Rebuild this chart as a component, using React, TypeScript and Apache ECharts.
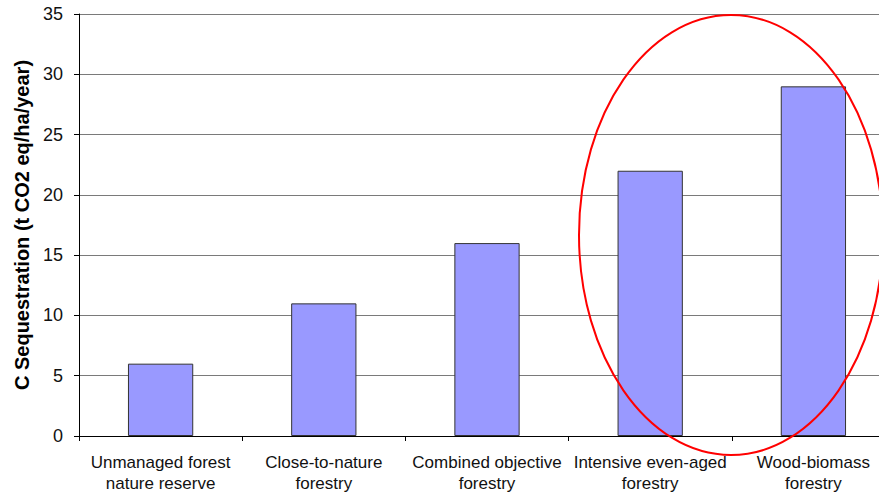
import React, { useEffect, useRef } from "react";
import * as echarts from "echarts";

const categories = [
  "Unmanaged forest\nnature reserve",
  "Close-to-nature\nforestry",
  "Combined objective\nforestry",
  "Intensive even-aged\nforestry",
  "Wood-biomass\nforestry",
];
const sequestration = [6, 11, 16, 22, 29];
const yTicks = { min: 0, max: 35, interval: 5 };
const yAxisTitle = "C Sequestration (t CO2 eq/ha/year)";

export default function App() {
  const ref = useRef<HTMLDivElement>(null);

  useEffect(() => {
    if (!ref.current) return;
    const chart = echarts.init(ref.current, undefined, { renderer: "svg" });
    chart.setOption({
      animation: false,
      textStyle: { fontFamily: "Liberation Sans, Arial, sans-serif" },
      grid: { left: 79, right: 0, top: 14, bottom: 57, outerBoundsMode: "none", containLabel: false },
      xAxis: {
        type: "category",
        data: categories,
        axisLine: { lineStyle: { color: "#000", width: 1 } },
        axisTick: { show: true, length: 5, lineStyle: { color: "#000" } },
        axisLabel: {
          color: "#111",
          fontSize: 17,
          lineHeight: 21,
          margin: 16,
          interval: 0,
        },
      },
      yAxis: {
        type: "value",
        min: yTicks.min,
        max: yTicks.max,
        interval: yTicks.interval,
        name: yAxisTitle,
        nameLocation: "middle",
        nameGap: 47,
        nameTextStyle: { fontSize: 20, fontWeight: "bold", color: "#000" },
        axisLine: { show: true, lineStyle: { color: "#000", width: 1 } },
        axisTick: { show: true, length: 5, lineStyle: { color: "#000" } },
        axisLabel: { color: "#111", fontSize: 18, margin: 16 },
        splitLine: { lineStyle: { color: "#7a7a7a", width: 1 } },
      },
      series: [
        {
          type: "bar",
          data: sequestration,
          barWidth: "40%",
          itemStyle: { color: "#9999FF", borderColor: "#333", borderWidth: 1 },
        },
      ],
      graphic: [
        {
          type: "ellipse",
          shape: { cx: 731, cy: 235, rx: 152, ry: 220 },
          style: { fill: "none", stroke: "#ff0000", lineWidth: 2 },
          z: 100,
        },
      ],
    });
    return () => chart.dispose();
  }, []);

  // The plot runs a little past the right edge of the visible frame.
  return (
    <div
      style={{
        position: "fixed",
        left: 0,
        top: 0,
        width: 879,
        height: 493,
        overflow: "hidden",
        background: "#fff",
      }}
    >
      <div ref={ref} style={{ width: 895, height: 493 }} />
    </div>
  );
}
